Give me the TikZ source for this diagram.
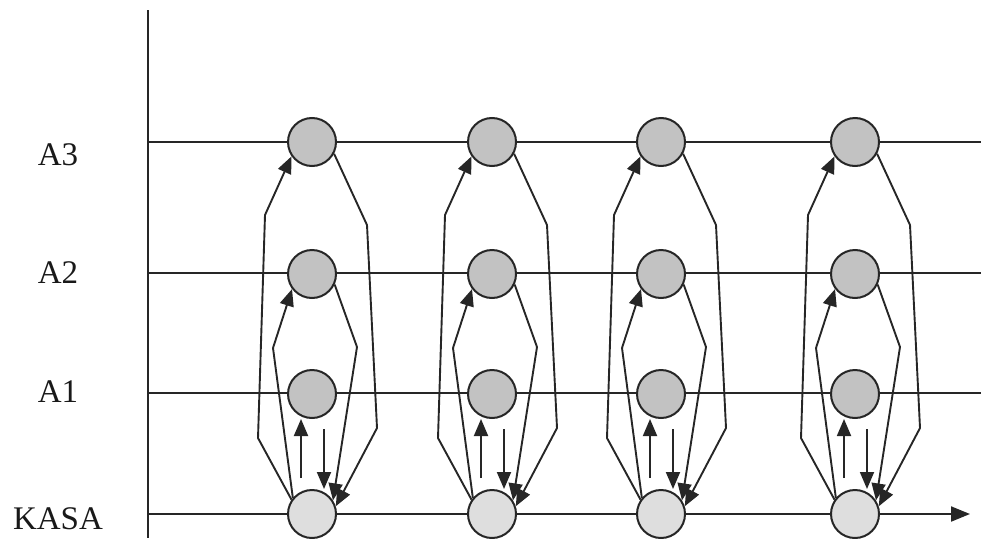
\documentclass[tikz,border=0pt]{standalone}
\usepackage{fontspec}
\setmainfont{Liberation Serif}
\usetikzlibrary{arrows.meta}
\begin{document}
\begin{tikzpicture}[x=1pt,y=-1pt,
  axis/.style={line width=2pt, draw=black!85},
  level/.style={circle, minimum size=48pt, inner sep=0pt, draw=black!85, line width=2pt, fill=black!24},
  cash/.style={level, fill=black!13},
  flow/.style={line width=1.9pt, draw=black!85, -{Triangle[length=17pt,width=14pt]}},
  lbl/.style={font=\fontsize{33}{33}\selectfont, text=black!90, inner sep=0pt}]
\useasboundingbox (0,0) rectangle (981,538);

% axes and level lines
\coordinate (top) at (148,10);
\coordinate (bot) at (148,538);
\coordinate (k0) at (148,514);
\coordinate (k1) at (970,514);
\draw[axis] (top) -- (bot);
\foreach \y/\m in {142/3,273/2,393/1} {
  \coordinate (l\m s) at (148,\y);
  \coordinate (l\m e) at (981,\y);
  \draw[axis] (l\m s) -- (l\m e);
}
\draw[axis,-{Triangle[length=19pt,width=15pt]}] (k0) -- (k1);

% row labels
\node[lbl] (tA3) at (58,155) {A3};
\node[lbl] (tA2) at (58,273) {A2};
\node[lbl] (tA1) at (58,392) {A1};
\node[lbl] (tK)  at (58,519) {KASA};

% one column of accounts per period
\foreach \cx/\n in {312/a,492/b,661/c,855/d} {
  \node[level] (\n3) at (\cx,142) {};
  \node[level] (\n2) at (\cx,274) {};
  \node[level] (\n1) at (\cx,394) {};
  \node[cash]  (\n0) at (\cx,514) {};
  \draw[flow] (\n0.145) -- (\cx-54,438) -- (\cx-47,215) -- (\n3.215);
  \draw[flow] (\n0.140) -- (\cx-39,348) -- (\n2.217);
  \draw[flow] (\n2.-25) -- (\cx+45,347) -- (\n0.33);
  \draw[flow] (\n3.-28) -- (\cx+55,225) -- (\cx+65,428) -- (\n0.18);
  \coordinate (\n u) at (\cx-11,478);
  \coordinate (\n d) at (\cx+12,429);
  \draw[flow] (\n u) -- (\n u |- \n1.south);
  \draw[flow] (\n d) -- (\n d |- \n0.north);
}
\end{tikzpicture}
\end{document}
